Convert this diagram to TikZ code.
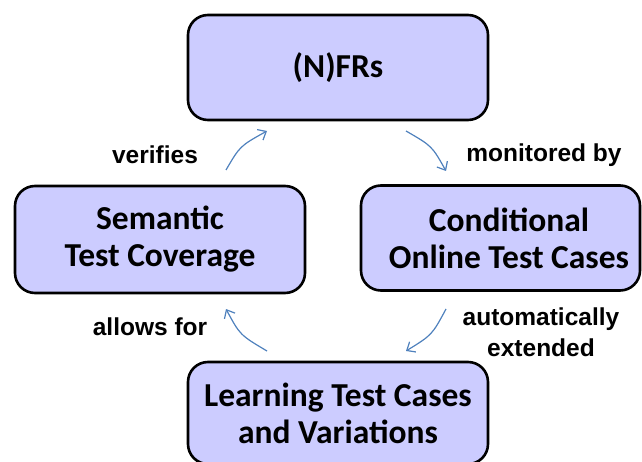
\documentclass[tikz,border=0pt]{standalone}
\usepackage{fontspec}
\setmainfont{Carlito}
\newfontfamily\lblfont{Liberation Sans}
\usetikzlibrary{arrows.meta}
\definecolor{boxfill}{HTML}{CCCCFF}
\definecolor{arrowblue}{HTML}{4F81BD}
\begin{document}
\begin{tikzpicture}[x=1pt,y=-1pt,
  boxtext/.style={align=center,inner sep=0pt,font=\fontsize{33.5}{37}\selectfont\bfseries},
  box/.style={draw=black,line width=2.6pt,fill=boxfill,rounded corners=20pt,boxtext},
  lbl/.style={align=center,inner sep=0pt,font=\lblfont\fontsize{24.5}{31}\selectfont\bfseries},
  conn/.style={draw=arrowblue,line width=1.2pt,-{Straight Barb[length=7pt,width=12pt]}}]
\useasboundingbox (0,0) rectangle (642,462);
\begin{scope}
\clip (0,0) rectangle (642,462);
\node[box,minimum width=300pt,minimum height=105pt] (nfr) at (338,67.5) {(N)FRs};
\node[box,minimum width=290pt,minimum height=107pt] (sem) at (160,239.5) {Semantic\\Test Coverage};
\node[box,minimum width=279pt,minimum height=105pt,
  label={[boxtext,xshift=8.5pt]center:Conditional\\Online Test Cases}] (cond) at (500.5,238) {};
\node[box,minimum width=300pt,minimum height=102pt] (learn) at (338,413) {Learning Test Cases\\and Variations};
\end{scope}
\node[lbl] (l1) at (155,155) {verifies};
\node[lbl] (l2) at (544,155) {monitored by};
\node[lbl] (l3) at (150,327) {allows for};
\node[lbl] (l4) at (541,332) {automatically\\extended};
\coordinate (a1s) at (226,170); \coordinate (a1e) at (267,131);
\coordinate (a2s) at (406,131); \coordinate (a2e) at (446,171);
\coordinate (a3s) at (267,351); \coordinate (a3e) at (226,309);
\coordinate (a4s) at (446,309); \coordinate (a4e) at (406,351);
\draw[conn] (a1s) .. controls (240,146) .. (a1e);
\draw[conn] (a2s) .. controls (432,146) .. (a2e);
\draw[conn] (a3s) .. controls (240,335) .. (a3e);
\draw[conn] (a4s) .. controls (432,335) .. (a4e);
\end{tikzpicture}
\end{document}
